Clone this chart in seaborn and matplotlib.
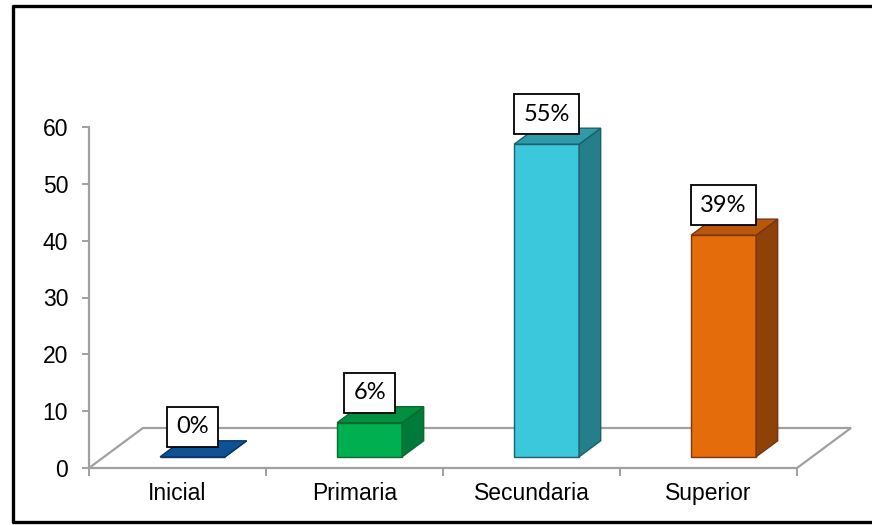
import numpy as np
import pandas as pd
import seaborn as sns
import matplotlib.pyplot as plt
from matplotlib.patches import Polygon
from matplotlib.lines import Line2D

# data
niveles = ["Inicial", "Primaria", "Secundaria", "Superior"]
valores = [0, 6, 55, 39]
etiquetas = ["0%", "6%", "55%", "39%"]
y_ticks = [0, 10, 20, 30, 40, 50, 60]

# colours per bar: front, side, top, edge
col_front = ["#1C5DA3", "#00B050", "#3BC8DC", "#E46C0A"]
col_side = ["#0B3F73", "#007A38", "#247F8B", "#8E4208"]
col_top = ["#0D5296", "#00903F", "#2E9BAA", "#B9580A"]
col_edge = ["#0A3566", "#0B6A30", "#1F5E68", "#7A3412"]

df = pd.DataFrame({"nivel": niveles, "valor": valores})

sns.set_theme(style="white")
plt.rcParams["font.family"] = ["Liberation Sans", "DejaVu Sans"]

fig = plt.figure(figsize=(8.72, 5.25), dpi=100)
ax = fig.add_axes([89 / 872, 57 / 525, 708 / 872, 341 / 525])

# depth of the floor in data units and where the bars sit inside it
depth = np.array([0.305, 7.04])
f_front, f_back = 0.28, 0.68
bar_w = 0.367

sns.barplot(data=df, x="nivel", y="valor", hue="nivel", palette=col_front,
            saturation=1, width=bar_w, legend=False, ax=ax, zorder=3)

ax.set_xlim(-0.5, 3.5)
ax.set_ylim(0, 60)

# floor
floor = Polygon([(-0.5, 0), (3.5, 0), (3.5 + depth[0], depth[1]),
                 (-0.5 + depth[0], depth[1])], closed=True, fc="white",
                ec="#A0A0A0", lw=1.6, zorder=1, clip_on=False)
ax.add_patch(floor)

shift = depth * f_front
dd = depth * (f_back - f_front)
for i, cont in enumerate(ax.containers):
    for bar in cont:
        x0 = bar.get_x() + shift[0]
        y0 = shift[1]
        w = bar.get_width()
        h = bar.get_height()
        bar.set_x(x0)
        bar.set_y(y0)
        bar.set_edgecolor(col_edge[i])
        bar.set_linewidth(1.0)
        bar.set_clip_on(False)
        side = Polygon([(x0 + w, y0), (x0 + w + dd[0], y0 + dd[1]),
                        (x0 + w + dd[0], y0 + h + dd[1]), (x0 + w, y0 + h)],
                       closed=True, fc=col_side[i], ec=col_edge[i], lw=1.0,
                       zorder=3, clip_on=False)
        top = Polygon([(x0, y0 + h), (x0 + w, y0 + h),
                       (x0 + w + dd[0], y0 + h + dd[1]), (x0 + dd[0], y0 + h + dd[1])],
                      closed=True, fc=col_top[i], ec=col_edge[i], lw=1.0,
                      zorder=3, clip_on=False)
        ax.add_patch(side)
        ax.add_patch(top)
        ax.annotate(etiquetas[i], xy=(x0 + w / 2, y0 + h), xytext=(0, 30),
                    textcoords="offset pixels", ha="center", va="center",
                    fontsize=17, family=["Lato", "DejaVu Sans"], color="black",
                    bbox=dict(boxstyle="square,pad=0.4", fc="white", ec="black", lw=1.3),
                    zorder=5, annotation_clip=False)

# axes styling
for s in ["top", "right", "bottom"]:
    ax.spines[s].set_visible(False)
ax.spines["left"].set_color("#A0A0A0")
ax.spines["left"].set_linewidth(1.6)

ax.set_yticks(y_ticks)
ax.set_yticklabels([str(t) for t in y_ticks])
ax.tick_params(axis="y", left=True, length=5, width=1.4, color="#A0A0A0",
               pad=10, labelsize=16.5, labelcolor="black")

ax.set_xticks(np.arange(-0.5, 4, 1.0))
ax.set_xticklabels([""] * 5)
ax.set_xticks(range(len(niveles)), minor=True)
ax.set_xticklabels(niveles, minor=True)
ax.tick_params(axis="x", which="major", bottom=True, length=6, width=1.4,
               color="#A0A0A0")
ax.tick_params(axis="x", which="minor", bottom=True, length=0, pad=10,
               labelsize=16.5, labelcolor="black")
ax.set_xlabel("")
ax.set_ylabel("")
ax.patch.set_alpha(0)

# black frame (left, top, bottom)
fx = 13 / 872
fig.add_artist(Line2D([1.05, fx, fx, 1.05], [1 - 6 / 525, 1 - 6 / 525, 1 - 522 / 525, 1 - 522 / 525],
                      transform=fig.transFigure, color="black", lw=2.4))

fig.savefig("out.png", dpi=100)
